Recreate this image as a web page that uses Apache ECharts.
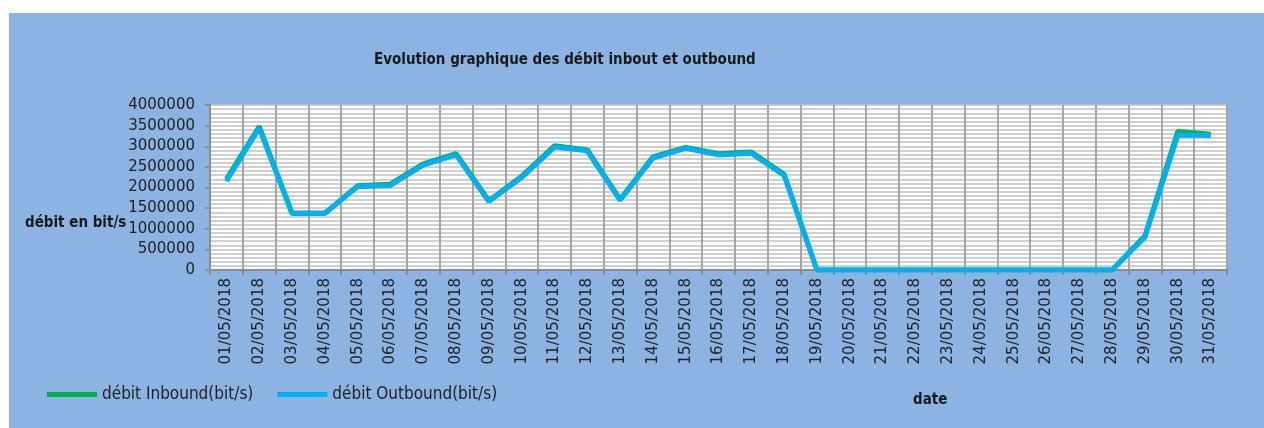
<!DOCTYPE html>
<html>
<head>
<meta charset="utf-8">
<script src="https://cdn.jsdelivr.net/npm/echarts@6/dist/echarts.min.js"></script>
<style>
  html, body { margin: 0; padding: 0; background: #fff; }
  #wrap { position: relative; width: 1264px; height: 428px; background: #fff; }
  #chart { position: absolute; left: 9px; top: 13px; width: 1255px; height: 415px; background: #8db3e2; }
</style>
</head>
<body>
<div id="wrap"><div id="chart"></div></div>
<script>
const dates = [
  '01/05/2018', '02/05/2018', '03/05/2018', '04/05/2018', '05/05/2018', '06/05/2018',
  '07/05/2018', '08/05/2018', '09/05/2018', '10/05/2018', '11/05/2018', '12/05/2018',
  '13/05/2018', '14/05/2018', '15/05/2018', '16/05/2018', '17/05/2018', '18/05/2018',
  '19/05/2018', '20/05/2018', '21/05/2018', '22/05/2018', '23/05/2018', '24/05/2018',
  '25/05/2018', '26/05/2018', '27/05/2018', '28/05/2018', '29/05/2018', '30/05/2018',
  '31/05/2018'
]
const inbound = [
  2200000, 3480000, 1380000, 1380000, 2040000, 2080000, 2570000, 2820000, 1680000, 2270000,
  3010000, 2910000, 1710000, 2740000, 2970000, 2820000, 2860000, 2320000, 0, 0,
  0, 0, 0, 0, 0, 0, 0, 0, 830000, 3360000, 3290000
]
const outbound = [
  2150000, 3440000, 1370000, 1370000, 2020000, 2050000, 2540000, 2790000, 1660000, 2240000,
  2980000, 2890000, 1690000, 2710000, 2950000, 2790000, 2830000, 2290000, 0, 0,
  0, 0, 0, 0, 0, 0, 0, 0, 800000, 3270000, 3260000
]
const yTicks = { min: 0, max: 4000000, interval: 500000 }

const narrow = '"Liberation Sans Narrow", "DejaVu Sans Condensed", "Liberation Sans", sans-serif'
const wide = '"DejaVu Sans", "Liberation Sans", sans-serif'
const chart = echarts.init(document.getElementById('chart'))

chart.setOption({
  animation: false,
  title: {
    text: 'Evolution graphique des débit inbout et outbound',
    left: 360,
    top: 35,
    textStyle: { fontFamily: narrow, fontSize: 15, fontWeight: 'bold', color: '#1a1a1a' }
  },
  legend: {
    left: 33,
    top: 368,
    itemWidth: 50,
    itemHeight: 5,
    itemGap: 24,
    icon: 'rect',
    textStyle: { fontFamily: narrow, fontSize: 17, color: '#222' },
    data: ['débit Inbound(bit/s)', 'débit Outbound(bit/s)']
  },
  graphic: [
    {
      type: 'text',
      left: 16,
      top: 203,
      style: { text: 'débit en bit/s', font: 'bold 15px ' + narrow, fill: '#1a1a1a' }
    },
    {
      type: 'text',
      left: 904,
      top: 380,
      style: { text: 'date', font: 'bold 15px ' + narrow, fill: '#1a1a1a' }
    }
  ],
  grid: {
    left: 201,
    top: 92,
    right: 37,
    bottom: 158,
    show: true,
    backgroundColor: '#ffffff',
    borderWidth: 0
  },
  xAxis: {
    type: 'category',
    data: dates,
    boundaryGap: true,
    axisLine: { lineStyle: { color: '#8c8c8c', width: 2 } },
    axisTick: { show: true, length: 5, lineStyle: { color: '#8c8c8c', width: 2 } },
    axisLabel: { rotate: 90, interval: 0, margin: 8, fontFamily: wide, fontSize: 15, color: '#222' },
    splitLine: { show: true, interval: 0, lineStyle: { color: '#a6a6a6', width: 2 } }
  },
  yAxis: {
    type: 'value',
    min: yTicks.min,
    max: yTicks.max,
    interval: yTicks.interval,
    axisLine: { show: true, lineStyle: { color: '#8c8c8c', width: 2 } },
    axisTick: { show: true, length: 5, lineStyle: { color: '#8c8c8c', width: 2 } },
    axisLabel: { margin: 15, fontFamily: wide, fontSize: 15, color: '#222', formatter: (v) => String(v) },
    splitLine: { show: true, lineStyle: { color: '#c0c0c0', width: 1.6 } },
    minorTick: { show: false, splitNumber: 5 },
    minorSplitLine: { show: true, lineStyle: { color: '#c0c0c0', width: 1.6 } }
  },
  series: [
    {
      name: 'débit Inbound(bit/s)',
      type: 'line',
      data: inbound,
      symbol: 'none',
      color: '#00b050',
      lineStyle: { width: 5, color: '#00b050' }
    },
    {
      name: 'débit Outbound(bit/s)',
      type: 'line',
      data: outbound,
      symbol: 'none',
      color: '#00b0f0',
      lineStyle: { width: 5, color: '#00b0f0' }
    }
  ]
})
</script>
</body>
</html>
